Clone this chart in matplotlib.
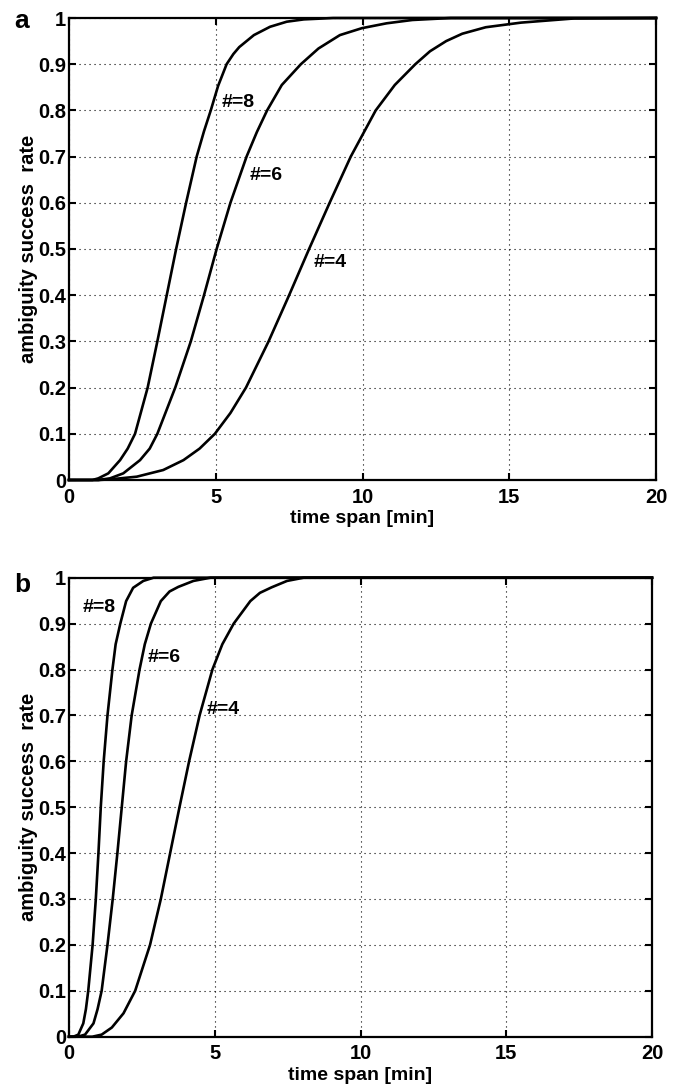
import matplotlib.pyplot as plt
import numpy as np

plt.rcParams['font.family'] = ['Liberation Sans', 'DejaVu Sans']
plt.rcParams['font.weight'] = 'bold'

# panel a: (time [min], success rate)
a8_t = [0, 0.8, 1.0, 1.34, 1.74, 2.0, 2.25, 2.68, 3.01, 3.33, 3.65, 3.99, 4.35, 4.6, 4.83, 5.08, 5.37, 5.6, 5.8, 6.30, 6.85, 7.42, 8.0, 9.0, 20]
a8_r = [0, 0, 0.0036, 0.0144, 0.043, 0.068, 0.1, 0.2, 0.3, 0.4, 0.5, 0.6, 0.7, 0.755, 0.8, 0.853, 0.9, 0.922, 0.937, 0.963, 0.981, 0.992, 0.997, 1.0, 1.0]
a6_t = [0, 1.0, 1.40, 1.85, 2.42, 2.75, 3.01, 3.62, 4.15, 4.6, 5.03, 5.5, 6.05, 6.4, 6.75, 7.25, 7.9, 8.5, 9.23, 9.98, 10.82, 11.7, 13.0, 20]
a6_r = [0, 0, 0.0036, 0.0144, 0.043, 0.068, 0.1, 0.2, 0.3, 0.4, 0.5, 0.6, 0.7, 0.753, 0.8, 0.855, 0.9, 0.934, 0.963, 0.978, 0.9885, 0.9957, 1.0, 1.0]
a4_t = [0, 1.0, 1.40, 2.31, 3.21, 3.90, 4.45, 4.97, 5.5, 6.03, 6.8, 7.5, 8.18, 8.88, 9.6, 10.45, 11.1, 11.8, 12.3, 12.85, 13.4, 14.2, 15.4, 17.2, 20]
a4_r = [0, 0, 0.0014, 0.0072, 0.0216, 0.043, 0.068, 0.1, 0.145, 0.2, 0.3, 0.4, 0.5, 0.6, 0.7, 0.8, 0.855, 0.9, 0.928, 0.95, 0.966, 0.98, 0.99, 0.999, 1.0]

# panel b
b8_t = [0, 0.15, 0.32, 0.49, 0.58, 0.66, 0.81, 0.92, 1.01, 1.09, 1.19, 1.32, 1.49, 1.6, 1.76, 1.96, 2.2, 2.55, 2.9, 20]
b8_r = [0, 0, 0.0045, 0.029, 0.06, 0.1, 0.2, 0.3, 0.4, 0.5, 0.6, 0.7, 0.8, 0.855, 0.9, 0.949, 0.978, 0.993, 1.0, 1.0]
b6_t = [0, 0.3, 0.55, 0.84, 0.98, 1.12, 1.32, 1.50, 1.66, 1.81, 1.96, 2.15, 2.42, 2.6, 2.81, 3.15, 3.45, 3.75, 4.27, 4.85, 20]
b6_r = [0, 0, 0.0045, 0.029, 0.06, 0.1, 0.2, 0.3, 0.4, 0.5, 0.6, 0.7, 0.8, 0.855, 0.9, 0.949, 0.97, 0.98, 0.993, 1.0, 1.0]
b4_t = [0, 0.8, 1.12, 1.47, 1.87, 2.27, 2.78, 3.15, 3.47, 3.79, 4.12, 4.48, 4.92, 5.26, 5.65, 6.22, 6.55, 6.95, 7.48, 8.05, 20]
b4_r = [0, 0, 0.0045, 0.02, 0.051, 0.1, 0.2, 0.3, 0.4, 0.5, 0.6, 0.7, 0.8, 0.855, 0.9, 0.949, 0.967, 0.979, 0.993, 1.0, 1.0]

labels_a = [('#=8', 5.2, 0.818), ('#=6', 6.14, 0.66), ('#=4', 8.32, 0.47)]
labels_b = [('#=8', 0.47, 0.934), ('#=6', 2.69, 0.827), ('#=4', 4.71, 0.713)]
xticks = [0, 5, 10, 15, 20]
yticks = [0, 0.1, 0.2, 0.3, 0.4, 0.5, 0.6, 0.7, 0.8, 0.9, 1]
ytick_labels = ['0', '0.1', '0.2', '0.3', '0.4', '0.5', '0.6', '0.7', '0.8', '0.9', '1']

fig = plt.figure(figsize=(6.8, 10.86), dpi=100)
ax_a = fig.add_axes([69/680, 1 - 480/1086, 587/680, 462/1086])
ax_b = fig.add_axes([69/680, 1 - 1036.7/1086, 583/680, 459/1086])

panels = [
    (ax_a, [(a8_t, a8_r), (a6_t, a6_r), (a4_t, a4_r)], labels_a),
    (ax_b, [(b8_t, b8_r), (b6_t, b6_r), (b4_t, b4_r)], labels_b),
]

for ax, curves, labs in panels:
    ax.grid(True, linestyle=(0, (1, 3.5)), color='black', lw=0.8)
    ax.set_axisbelow(True)
    for t, r in curves:
        ax.plot(t, r, color='black', lw=1.9, solid_joinstyle='round', clip_on=False)
    for txt, x, y in labs:
        ax.text(x, y, txt, fontsize=14, fontweight='bold', va='center', ha='left')
    ax.set_xlim(0, 20)
    ax.set_ylim(0, 1)
    ax.set_xticks(xticks)
    ax.set_xticklabels([str(v) for v in xticks])
    ax.set_yticks(yticks)
    ax.set_yticklabels(ytick_labels)
    ax.tick_params(direction='in', top=True, right=True, length=5, width=1.5,
                   labelsize=14.5)
    ax.tick_params(axis='x', pad=5.5)
    ax.tick_params(axis='y', pad=2)
    for s in ax.spines.values():
        s.set_linewidth(1.6)
    ax.set_xlabel('time span [min]', fontsize=14, fontweight='bold', labelpad=2.5)
    ax.set_ylabel('ambiguity success  rate', fontsize=14.5, fontweight='bold', labelpad=0)

fig.text(14/680, 1 - 28/1086, 'a', fontsize=19, fontweight='bold', va='baseline', ha='left')
fig.text(14/680, 1 - 592/1086, 'b', fontsize=19, fontweight='bold', va='baseline', ha='left')

fig.savefig('out.png', dpi=100)
